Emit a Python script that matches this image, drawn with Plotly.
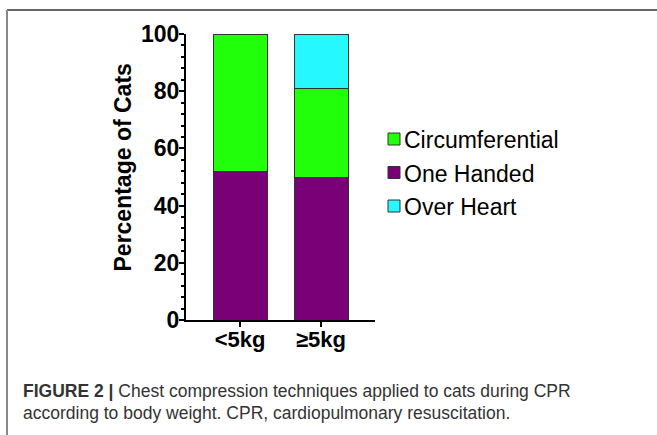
import plotly.graph_objects as go

categories = ["<5kg", "≥5kg"]
series_names = ["One Handed", "Circumferential", "Over Heart"]
one_handed = [52, 50]
circumferential = [48, 31]
over_heart = [0, 19]
colors = {"One Handed": "#7A0078", "Circumferential": "#22FF0A", "Over Heart": "#25F8FF"}
legend_order = ["Circumferential", "One Handed", "Over Heart"]
y_ticks = [0, 20, 40, 60, 80, 100]
caption_bold = "FIGURE 2 |"
caption_1 = " Chest compression techniques applied to cats during CPR"
caption_2 = "according to body weight. CPR, cardiopulmonary resuscitation."

values = {"One Handed": one_handed, "Circumferential": circumferential, "Over Heart": over_heart}

W, H = 657, 435
L, R, T, B = 186, 375, 34, 320  # plot area in px


def px(x):
    return (x - L) / (R - L)


def py(y):
    return (B - y) / (B - T)


fig = go.Figure()
xs = list(range(len(categories)))
for name in series_names:
    fig.add_trace(go.Bar(
        x=xs, y=values[name], name=name, width=54 / 81,
        marker=dict(color=colors[name], line=dict(color="#333333", width=1)),
        showlegend=False, hoverinfo="skip",
    ))

ticktext = [c.replace("<", "&lt;") for c in categories]
base_font = "Liberation Sans, Arial, sans-serif"

fig.update_layout(
    width=W, height=H,
    margin=dict(l=L, r=W - R, t=T, b=H - B, pad=0),
    barmode="stack",
    plot_bgcolor="white", paper_bgcolor="white",
    font=dict(family=base_font, color="black"),
    xaxis=dict(
        range=[-54 / 81, 1 + 54 / 81], tickvals=xs, ticktext=ticktext,
        showline=True, linecolor="black", linewidth=2,
        ticks="outside", ticklen=5, tickwidth=2, tickcolor="black",
        ticklabelstandoff=-6,
        tickfont=dict(size=22, family=base_font, color="black", weight="bold"),
        showgrid=False, zeroline=False, fixedrange=True,
    ),
    yaxis=dict(
        range=[0, 100], tickvals=y_ticks,
        showline=True, linecolor="black", linewidth=2,
        ticks="outside", ticklen=5, tickwidth=2, tickcolor="black",
        ticklabelstandoff=-5,
        minor=dict(dtick=4, ticks="outside", ticklen=3, tickwidth=1.5, tickcolor="black", showgrid=False),
        tickfont=dict(size=23, family=base_font, color="black", weight="bold"),
        showgrid=False, zeroline=False, fixedrange=True,
    ),
)

annotations = []
# y-axis title
annotations.append(dict(
    text="<b>Percentage of Cats</b>", x=px(122), y=py(167.5), xref="paper", yref="paper",
    textangle=-90, showarrow=False, xanchor="center", yanchor="middle",
    font=dict(size=23, family=base_font, color="black"),
))

shapes = []
row_y = [139, 172.5, 206]
for name, yy in zip(legend_order, row_y):
    shapes.append(dict(
        type="rect", xref="paper", yref="paper",
        x0=px(388), x1=px(400), y0=py(yy + 6), y1=py(yy - 6),
        fillcolor=colors[name], line=dict(color="#333333", width=1),
    ))
    annotations.append(dict(
        text=name, x=px(402), y=py(yy + 1), xref="paper", yref="paper",
        showarrow=False, xanchor="left", yanchor="middle",
        font=dict(size=23, family=base_font, color="black"),
    ))

# caption
annotations.append(dict(
    text="<b>" + caption_bold + "</b>" + caption_1, x=px(21), y=py(391), xref="paper", yref="paper",
    showarrow=False, xanchor="left", yanchor="middle",
    font=dict(size=17.5, family=base_font, color="#333333"),
))
annotations.append(dict(
    text=caption_2, x=px(21), y=py(413), xref="paper", yref="paper",
    showarrow=False, xanchor="left", yanchor="middle",
    font=dict(size=17.5, family=base_font, color="#333333"),
))

# frame lines
shapes.append(dict(type="line", xref="paper", yref="paper",
                   x0=px(7), x1=px(W + 2), y0=py(10), y1=py(10),
                   line=dict(color="#333333", width=1.5)))
shapes.append(dict(type="line", xref="paper", yref="paper",
                   x0=px(7), x1=px(7), y0=py(10), y1=py(H + 2),
                   line=dict(color="#888888", width=2)))

fig.update_layout(annotations=annotations, shapes=shapes)
fig.write_html("out.html", config={"displayModeBar": False},
               post_script="document.body.style.margin='0px';")
